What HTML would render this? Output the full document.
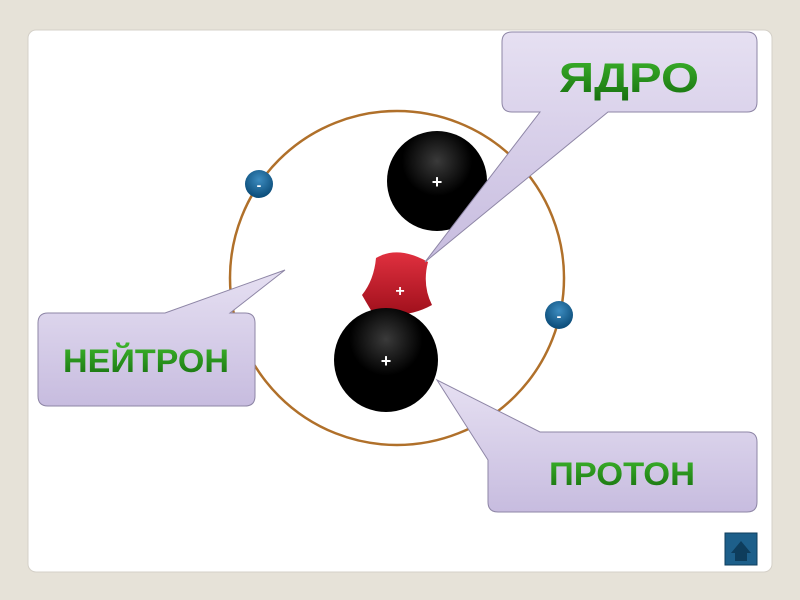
<!DOCTYPE html>
<html><head><meta charset="utf-8"><style>
html,body{margin:0;padding:0;background:#e6e2d8;}
svg{display:block}
text{font-family:"Liberation Sans","DejaVu Sans",sans-serif;font-weight:bold}
</style></head><body>
<svg width="800" height="600" viewBox="0 0 800 600">
<defs>
<linearGradient id="box" x1="0" y1="0" x2="0" y2="1"><stop offset="0" stop-color="#e6e0f2"/><stop offset="1" stop-color="#c7bcdf"/></linearGradient>
<radialGradient id="blk" cx="0.5" cy="0.3" r="0.7"><stop offset="0" stop-color="#3a3a3a"/><stop offset="0.5" stop-color="#000"/><stop offset="1" stop-color="#000"/></radialGradient>
<radialGradient id="blu" cx="0.5" cy="0.35" r="0.6"><stop offset="0" stop-color="#3d8cc0"/><stop offset="1" stop-color="#0d4f7c"/></radialGradient>
<linearGradient id="red" x1="0" y1="0" x2="0" y2="1"><stop offset="0" stop-color="#e0303f"/><stop offset="1" stop-color="#a0101c"/></linearGradient>
<linearGradient id="grn" x1="0" y1="0" x2="0" y2="1"><stop offset="0" stop-color="#3db52c"/><stop offset="1" stop-color="#17700f"/></linearGradient>
</defs>
<rect x="28" y="30" width="744" height="542" rx="8" fill="#fff" stroke="#d4d0c8"/>
<circle cx="397" cy="278" r="167" fill="none" stroke="#b0702a" stroke-width="2.5"/>
<circle cx="437" cy="181" r="50" fill="url(#blk)"/>
<text x="437" y="188" fill="#fff" font-size="18" text-anchor="middle" font-weight="normal">+</text>
<path d="M376,258 Q398,245 428,262 Q422,285 432,305 Q405,320 372,312 Q366,302 362,295 Q374,280 376,258Z" fill="url(#red)"/>
<text x="400" y="296" fill="#fff" font-size="16" text-anchor="middle" font-weight="normal">+</text>
<circle cx="386" cy="360" r="52" fill="url(#blk)"/>
<text x="386" y="367" fill="#fff" font-size="18" text-anchor="middle" font-weight="normal">+</text>
<circle cx="259" cy="184" r="14" fill="url(#blu)"/>
<text x="259" y="190" fill="#fff" font-size="14" text-anchor="middle">-</text>
<circle cx="559" cy="315" r="14" fill="url(#blu)"/>
<text x="559" y="321" fill="#fff" font-size="14" text-anchor="middle">-</text>
<path d="M512,32 H747 Q757,32 757,42 V102 Q757,112 747,112 H608 L425,262 L540,112 H512 Q502,112 502,102 V42 Q502,32 512,32Z" fill="url(#box)" stroke="#8e86a6" stroke-width="1"/>
<text x="629" y="92" fill="url(#grn)" font-size="42" text-anchor="middle" textLength="140" lengthAdjust="spacingAndGlyphs">ЯДРО</text>
<path d="M48,313 H165 L285,270 L230,313 H245 Q255,313 255,323 V396 Q255,406 245,406 H48 Q38,406 38,396 V323 Q38,313 48,313Z" fill="url(#box)" stroke="#8e86a6" stroke-width="1"/>
<text x="146" y="372" fill="url(#grn)" font-size="32" text-anchor="middle" textLength="166" lengthAdjust="spacingAndGlyphs">НЕЙТРОН</text>
<path d="M540,432 H747 Q757,432 757,442 V502 Q757,512 747,512 H498 Q488,512 488,502 V460 L437,380 Z" fill="url(#box)" stroke="#8e86a6" stroke-width="1"/>
<text x="622" y="485" fill="url(#grn)" font-size="32" text-anchor="middle" textLength="146" lengthAdjust="spacingAndGlyphs">ПРОТОН</text>
<rect x="725" y="533" width="32" height="32" fill="#1d5f8a" stroke="#0e3d5c"/>
<path d="M731,553 L741,541 L751,553 Z M735,553 V561 H747 V553Z" fill="#0e3d5c"/>
</svg>
</body></html>
